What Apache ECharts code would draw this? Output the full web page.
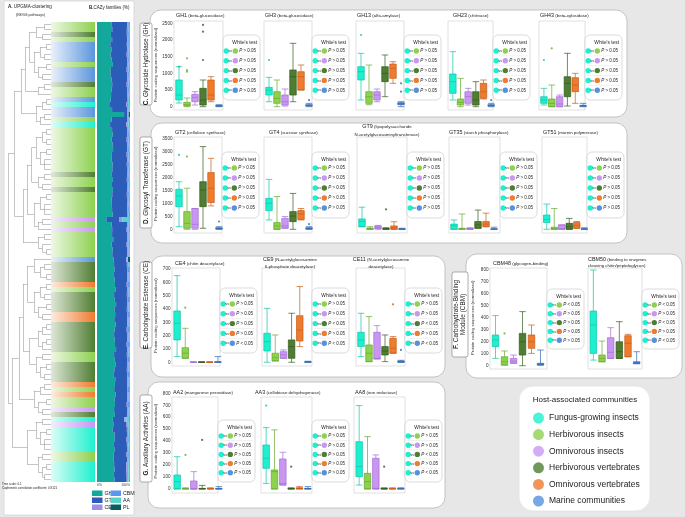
<!DOCTYPE html>
<html><head><meta charset="utf-8">
<script src="https://cdn.jsdelivr.net/npm/echarts@6/dist/echarts.min.js"></script>
<style>html,body{margin:0;padding:0;background:#e7e7e7}#c{width:685px;height:517px}</style>
</head><body><div id="c"></div><script>
// ================= DATA =================
const groups = ['Fungus-growing insects','Herbivorous insects','Omnivorous insects','Herbivorous vertebrates','Omnivorous vertebrates','Marine communities'];

// Box plots: [min, Q1, median, Q3, max] for each of the 6 groups
const GH1  = [[110,200,350,800,1200],[0,20,60,130,260],[50,150,280,370,450],[0,50,200,550,800],[150,200,350,800,900],[0,10,25,40,60]];
const GH3  = [[150,350,500,580,880],[0,100,250,450,800],[20,50,150,350,530],[150,350,900,1100,1900],[500,500,900,1050,1250],[0,20,40,60,100]];
const GH13 = [[200,800,1050,1200,1600],[60,100,300,450,1250],[150,200,350,450,530],[300,750,1000,1200,1550],[700,850,1150,1280,1350],[0,60,90,120,150]];
const GH23 = [[200,400,750,980,1650],[0,50,130,230,850],[50,100,300,450,550],[0,50,200,450,750],[230,250,450,700,800],[0,20,40,60,100]];
const GH43 = [[50,100,200,300,550],[0,0,100,230,650],[0,0,80,300,350],[20,300,700,900,1600],[100,450,650,870,1000],[0,10,25,40,100]];
const GT2  = [[100,870,1280,1540,1830],[0,40,230,680,1580],[0,40,190,800,800],[40,870,1510,1830,3180],[900,1030,1580,2180,2730],[0,10,30,60,100]];
const GT4  = [[360,720,1000,1190,1920],[0,0,130,260,1260],[40,40,130,420,490],[0,295,510,680,1380],[360,380,590,720,800],[0,10,30,60,100]];
const GT9  = [[100,100,300,400,850],[0,0,20,50,100],[0,20,70,130,150],[0,0,20,40,60],[0,0,60,130,290],[0,0,10,20,40]];
const GT35 = [[0,0,130,200,360],[0,0,20,40,590],[0,0,15,40,60],[40,40,170,300,740],[100,100,200,300,620],[0,0,10,20,80]];
const GT51 = [[0,260,380,550,970],[0,0,30,80,800],[0,0,30,170,170],[0,0,100,230,420],[40,40,150,260,300],[0,0,10,20,60]];
const CE4  = [[43,168,293,385,650],[30,30,68,110,255],[0,0,1,2,3],[0,0,1,2,3],[0,0,1,2,3],[0,0,2,5,43]];
const CE9  = [[0,85,155,218,405],[10,10,35,68,205],[30,30,55,80,93],[0,30,118,168,368],[118,160,243,350,568],[0,0,2,5,8]];
const CE11 = [[43,118,168,225,368],[5,5,68,130,343],[25,25,30,225,275],[5,55,85,118,205],[68,68,105,180,193],[0,0,5,10,15]];
const CBM48= [[61,159,215,257,419],[5,5,33,75,123],[20,20,39,61,89],[0,89,200,270,452],[103,145,200,257,340],[5,5,12,20,131]];
const CBM50= [[47,103,340,457,800],[33,33,61,89,206],[61,61,112,234,318],[61,61,117,200,368],[75,75,187,251,262],[17,17,25,33,117]];
const AA2  = [[0,0,61,117,270],[0,0,2,5,10],[0,0,0,67,145],[0,0,2,5,30],[0,0,2,5,10],[0,0,2,5,20]];
const AA3  = [[47,173,257,368,513],[0,0,145,159,494],[33,33,47,251,307],[0,0,2,5,10],[0,0,5,10,20],[0,0,3,5,20]];
const AA8  = [[33,103,187,396,697],[0,0,61,131,438],[0,0,6,257,285],[0,0,2,5,10],[0,0,2,5,10],[0,0,3,5,10]];

// Outlying points: [group index, value]
const GH1_out  = [[0,1200],[1,1450],[1,1100],[1,1050],[3,2450],[3,2250],[3,1400]];
const GH3_out  = [[0,1400],[5,200]];
const GH13_out = [[0,2150],[5,700],[5,450]];
const GH23_out = [[5,200]];
const GH43_out = [[0,1400],[1,1750]];
const GT2_out  = [[0,2860],[1,2800],[5,300]];
const GT4_out  = [[5,200]];
const GT9_out  = [[3,770]];
const CE4_out  = [[1,410]];
const CE11_out = [[4,435],[5,93]];
const CBM48_out= [[1,270]];
const AA2_out  = [[1,285],[3,410]];
const AA3_out  = [[0,697],[3,187]];
const AA8_out  = [[3,187]];

// White's test results (fungus-growing insects vs each other group)
const P_NS    = ['>','>','>','>','>'];
const P_CE4   = ['>','>','>','>','<'];
const P_CE9   = ['>','>','<','>','<'];
const P_CE11  = ['>','>','<','>','<'];
const P_CBM48 = ['<','>','>','>','>'];
const P_CBM50 = ['<','>','<','>','<'];
const P_AA8   = ['>','>','<','>','<'];

// Row y-axis ranges
const rowMax  = [2500, 3500, 700, 800, 800];
const rowStep = [500, 500, 100, 100, 100];

// Left panel: habitat of each leaf (G herb. insects, D herb. vertebrates, B marine, C fungus-growing, P omniv. insects, O omniv. vertebrates)
const leafHabitat = ('GGDGBBBBGBBBDGGBCBBGC' + 'GGGGGGGGGDGGDGGGGGPGPGGGGG' + 'BDDDDOGDDDDOODDDDDDGGDDDDOGOGGPD' + 'CPCCCCCGGCCCC').split('');

// CAZy class composition of each leaf (%)
const cazyClasses = ['GH','GT','CE','CBM','AA','PL'];
const cazyGH = [44,46,42,45,40,43,41,44,47,42,40,43,46,44,42,41,38,45,82,43,40,
 45,47,44,46,48,45,43,47,46,44,48,45,47,46,44,43,45,47,28,44,46,45,48,44,47,45,
 50,52,54,51,53,55,56,52,54,57,53,55,52,56,54,51,53,55,57,52,54,56,53,51,55,54,52,56,53,55,51,54,
 48,52,47,53,55,52,54,51,50,53,55,52,54];
const cazyGT = [46,44,48,45,50,47,49,46,43,48,50,47,44,46,48,49,52,45,10,47,50,
 45,43,46,44,42,45,47,43,44,46,42,45,43,44,46,47,45,43,40,46,44,45,42,46,43,45,
 38,39,37,40,38,36,35,39,37,34,38,36,39,35,37,40,38,36,34,39,37,35,38,40,36,37,39,35,38,36,40,37,
 35,39,44,38,36,40,37,40,41,38,36,39,37];
const cazyCE = [3,4,4,3,3,4,4,3,3,4,3,3,4,3,4,3,3,4,2,3,3,
 4,3,4,3,3,4,3,4,3,3,4,3,3,4,3,4,3,3,5,4,3,4,3,3,4,3,
 2,4,3,4,3,4,3,4,3,3,4,3,4,3,4,3,3,4,3,4,3,3,4,3,4,3,3,4,3,4,3,3,
 4,3,4,3,4,3,3,4,3,4,3,4,3];
const cazyCBM = [2,2,3,2,3,2,2,3,2,2,3,2,2,3,2,2,3,2,1,2,3,
 2,3,2,2,3,2,2,3,2,2,3,2,2,3,2,2,3,2,4,2,3,2,2,3,2,2,
 2,2,3,2,2,3,2,2,3,2,2,3,2,2,3,2,2,3,2,2,3,2,2,3,2,2,3,2,2,3,2,2,
 2,3,2,2,3,2,2,3,2,2,3,2,2];
const cazyAA = [2,3,2,2,3,2,3,2,2,3,2,2,3,2,2,3,6,2,1,2,4,
 2,2,3,2,2,3,2,2,3,2,2,3,2,2,3,2,2,3,22,2,3,2,2,3,2,2,
 2,3,2,2,3,2,2,3,2,2,3,2,2,3,2,2,3,2,2,3,2,2,3,2,2,3,2,2,3,2,2,3,
 10,4,3,3,3,4,3,3,3,4,5,4,4];
const cazyPL = [1,0.5,0.5,1,0.5,0.5,1,0.5,0.5,1,0.5,0.5,1,0.5,0.5,1,0.5,0.5,4,0.5,1,
 0.5,0.5,1,0.5,0.5,1,0.5,0.5,1,0.5,0.5,1,0.5,0.5,1,0.5,0.5,1,0.5,0.5,1,0.5,0.5,1,0.5,0.5,
 6,0.5,1,0.5,0.5,1,0.5,0.5,1,0.5,0.5,1,0.5,0.5,1,0.5,0.5,1,0.5,0.5,1,0.5,0.5,1,0.5,0.5,1,0.5,0.5,1,0.5,0.5,
 1,0.5,0.5,1,0.5,0.5,1,0.5,0.5,1,0.5,0.5,1];

// UPGMA tree (x = leaf, number = merge height, 0..1)
const treeA = "((( ((x,x).15,(x,x).2).35 , (((x,x).1,(x,x).15).25,((x,x).1,(x,x).2).3).4 ).5, ((x,x).15,x).3 ).6, (((x,x).1,x).2,((x,x).15,x).25).35 ).7";
const treeB = "((( (((x,x).1,(x,x).1).2,((x,x).1,(x,x,x).15).25).35 , ((x,x).15,(x,x).2).3 ).45, ( ((x,x).1,(x,x,x).15).25 , ((x,x).2,x).3 ).4 ).55, ((x,x).15,(x,(x,x).1).2).3 ).65";
const treeC = "((( (x,((x,x).15,(x,x).1).25).4 , (((x,x).1,(x,x).15).25,((x,x).1,(x,x).2).3).4 ).55, ( (((x,x).1,x).2,((x,x).1,x).2).3 , ((x,x).2,((x,x).1,(x,x).15).25).35 ).5 ).65, (((x,x).15,x).25,((x,x).1,(x,x).2).3).4 ).75";
const treeD = "( ((x,x).2,((x,x).1,(x,x,x).15).25).35 , ((x,x).2,((x,x).1,(x,x).15).2).3 ).55";
const treeString = "((" + treeA + "," + treeB + ").85,(" + treeC + "," + treeD + ").9)1";

// ================= STYLE / LAYOUT =================
const FONT = '"Liberation Sans", Arial, sans-serif';
const groupFill = ['#1ef0cf','#8dd14f','#c997f2','#4f7d31','#ef7b2f','#5591dd'];
const groupLine = ['#10c4a8','#68a92f','#a46ed6','#345a1d','#c65d1a','#3468b0'];
const habitatColor = {G:'#8dd14f', D:'#4f7d31', B:'#5b95dc', C:'#1ef0cf', P:'#c997f2', O:'#ef7b2f'};
const habitatLight = {G:'#eef8e4', D:'#dfe8d8', B:'#eaf1fb', C:'#dcfdf7', P:'#f5ecfd', O:'#fdece0'};
const cazyColors = ['#12a89b','#2b5cb8','#9d8fe3','#5d95f5','#56d4cb','#0b5d5b'];

const rowsLayout = [
 {top:23.3, h:83.4, wy:35, wh:65, ty:16, ty2:[12.5,19], ft:21, fb:110, ng:17},
 {top:138.3, h:91, wy:152, wh:66, ty:133, ty2:[127,135], ft:137, fb:233, ng:17},
 {top:269, h:93.3, wy:288, wh:65, ty:264, ty2:[260,266.5], ft:268, fb:366, ng:15},
 {top:270, h:95.7, wy:289, wh:60, ty:264, ty2:[259.5,266], ft:268, fb:369, ng:16},
 {top:393.3, h:95.7, wy:420, wh:62, ty:393, ty2:[389,396], ft:397, fb:493, ng:15}
];
const subplots = [
 {n:'GH1', d:'(beta-glucosidase)', data:GH1, out:GH1_out, p:P_NS, row:0, x:175, w:48, wx:223, tx:176},
 {n:'GH3', d:'(beta-glucosidase)', data:GH3, out:GH3_out, p:P_NS, row:0, x:265, w:48, wx:312, tx:265},
 {n:'GH13', d:'(alfa-amylase)', data:GH13, out:GH13_out, p:P_NS, row:0, x:357, w:48, wx:404, tx:357},
 {n:'GH23', d:'(chitinase)', data:GH23, out:GH23_out, p:P_NS, row:0, x:449, w:46, wx:493, tx:453},
 {n:'GH43', d:'(beta-xylosidase)', data:GH43, out:GH43_out, p:P_NS, row:0, x:540, w:47, wx:585, tx:540},
 {n:'GT2', d:'(cellulose synthase)', data:GT2, out:GT2_out, p:P_NS, row:1, x:175, w:48, wx:222, tx:175},
 {n:'GT4', d:'(sucrose synthase)', data:GT4, out:GT4_out, p:P_NS, row:1, x:265, w:48, wx:312, tx:269},
 {n:'GT9', d:'(lipopolysaccharide', d2:'N-acetylglucosaminyltransferase)', data:GT9, out:GT9_out, p:P_NS, row:1, x:358, w:48, wx:407, tx:387, center:true},
 {n:'GT35', d:'(starch phosphorylase)', data:GT35, out:null, p:P_NS, row:1, x:450, w:48, wx:500, tx:449},
 {n:'GT51', d:'(murein polymerase)', data:GT51, out:null, p:P_NS, row:1, x:543, w:45, wx:587, tx:543},
 {n:'CE4', d:'(chitin deacetylase)', data:CE4, out:CE4_out, p:P_CE4, row:2, x:173, w:49, wx:220, tx:175},
 {n:'CE9', d:'(N-acetylglucosamine', d2:'6-phosphate deacetylase)', data:CE9, out:null, p:P_CE9, row:2, x:263, w:49, wx:312, tx:290, center:true},
 {n:'CE11', d:'(N-acetylglucosamine', d2:'deacetylase)', data:CE11, out:CE11_out, p:P_CE11, row:2, x:357, w:48, wx:405, tx:381, center:true},
 {n:'CBM48', d:'(glycogen-binding)', data:CBM48, out:CBM48_out, p:P_CBM48, row:3, x:491, w:54, wx:547, tx:493},
 {n:'CBM50', d:'(binding to enzymes', d2:'cleaving chitin/peptidoglycan)', data:CBM50, out:null, p:P_CBM50, row:3, x:589, w:52, wx:642, tx:588},
 {n:'AA2', d:'(manganese peroxidase)', data:AA2, out:AA2_out, p:P_NS, row:4, x:173, w:50, wx:218, tx:173},
 {n:'AA3', d:'(cellobiose dehydrogenase)', data:AA3, out:AA3_out, p:P_NS, row:4, x:262, w:50, wx:312, tx:255},
 {n:'AA8', d:'(iron reductase)', data:AA8, out:AA8_out, p:P_AA8, row:4, x:355, w:50, wx:405, tx:355}
];

// ================= BUILD =================
const G = [];
function rect(x,y,w,h,fill,stroke,r,z,lw){ G.push({type:'rect', silent:true, z:z||0, shape:{x:x,y:y,width:w,height:h,r:r||0}, style:{fill:fill, stroke:stroke||null, lineWidth:lw||0.8}}); }
function circle(cx,cy,r,fill,z){ G.push({type:'circle', silent:true, z:z||10, shape:{cx:cx,cy:cy,r:r}, style:{fill:fill}}); }
function line(x1,y1,x2,y2,stroke,lw,z){ G.push({type:'line', silent:true, z:z||2, shape:{x1:x1,y1:y1,x2:x2,y2:y2}, style:{stroke:stroke, lineWidth:lw||0.5}}); }
function txt(x,y,t,o){ o=o||{};
  const st={text:t, fill:o.color||'#222', fontSize:o.size||5, fontFamily:FONT, fontWeight:o.weight||'normal',
    align:o.align||'left', verticalAlign:'middle', textAlign:o.align||'left', textVerticalAlign:'middle'};
  if(o.lh) st.lineHeight=o.lh;
  if(o.rich) st.rich=o.rich;
  G.push({type:'text', silent:true, x:x, y:y, z:o.z||10, rotation:o.rot||0, style:st});
}
function rs(size, extra){ return Object.assign({fontSize:size, fontFamily:FONT, fill:'#222', color:'#222'}, extra||{}); }

// backgrounds
rect(4,1,130,514,'#ffffff','#d6d6d6',0,0,0.8);
rect(150,10,477,107,'#ffffff','#b8b8b8',11,0);
rect(151,123,476,120,'#ffffff','#b8b8b8',11,0);
rect(151,256,294,121,'#ffffff','#b8b8b8',11,0);
rect(466,254,216,124,'#ffffff','#b8b8b8',11,0);
rect(148,382,297,126,'#ffffff','#b8b8b8',11,0);
rect(519,386,131,125,'#ffffff','#e2e2e2',14,0);

// section labels
function sectionLabel(x,y,w,h,letter,label){
  rect(x,y,w,h,'#ffffff','#8a8a8a',2,5,0.7);
  txt(x+w/2, y+h/2, '{b|'+letter+'} '+label, {size:6.4, align:'center', rot:Math.PI/2, lh:7.2, rich:{b:rs(6.4,{fontWeight:'bold'})}});
}
sectionLabel(140,23,12,82,'C.','Glycoside Hydrolase (GH)');
sectionLabel(140,137,12,91,'D.','Glycosyl Transferase (GT)');
sectionLabel(140,262,12,86,'E.','Carbohydrate Esterase (CE)');
rect(452,272,16,85,'#ffffff','#8a8a8a',2,5,0.7);
txt(460,314.5,'{b|F.} Carbohydrate-Binding\nModule (CBM)',{size:6.4, align:'center', rot:Math.PI/2, lh:7, rich:{b:rs(6.4,{fontWeight:'bold'})}});
sectionLabel(140,395,12,87,'G.','Auxiliary Activities (AA)');

// left panel texts
txt(8,7,'{b|A.} UPGMA-clustering',{size:4.6, rich:{b:rs(4.6,{fontWeight:'bold'})}});
txt(16,15,'(KEGG pathways)',{size:3.6});
txt(89,8,'{b|B.}CAZy families (%)',{size:4.5, rich:{b:rs(4.5,{fontWeight:'bold'})}});
txt(2,484,'Tree scale: 0.1',{size:3});
txt(2,488.5,'Cophenetic correlation coefficient: 0.9121',{size:3});

// host legend title
txt(585,400,'Host-associated communities',{size:8, align:'center'});

const grids=[], xAxes=[], yAxes=[], series=[];

// --- dendrogram ---
function parseTree(str){
  const s=str.replace(/\s/g,''); let pos=0, leaf=0;
  function node(){
    if(s[pos]==='('){ pos++; const c=[];
      for(;;){ c.push(node()); if(s[pos]===','){pos++;continue;} pos++; break; }
      const m=/^[0-9.]+/.exec(s.slice(pos)); pos+=m[0].length;
      return {h:parseFloat(m[0]), c:c};
    }
    pos++; return {h:0, leaf:leaf++};
  }
  return node();
}
const segs=[];
function layoutTree(n){
  if(n.c){ const ys=n.c.map(layoutTree);
    segs.push([[n.h,Math.min.apply(null,ys)],[n.h,Math.max.apply(null,ys)]]);
    n.c.forEach((ch,k)=>segs.push([[ch.h,ys[k]],[n.h,ys[k]]]));
    return (ys[0]+ys[ys.length-1])/2; }
  return n.leaf;
}
const nLeaves = leafHabitat.length;
layoutTree(parseTree(treeString));
grids.push({left:8, top:22, width:43, height:460});
xAxes.push({gridIndex:0, type:'value', min:0, max:1, inverse:true, show:false});
yAxes.push({gridIndex:0, type:'value', min:-0.5, max:nLeaves-0.5, inverse:true, show:false});
series.push({type:'lines', coordinateSystem:'cartesian2d', xAxisIndex:0, yAxisIndex:0, silent:true,
  data:segs.map(c=>({coords:c})), lineStyle:{color:'#9d9d9d', width:0.6, opacity:1}, z:3});

// --- habitat bands ---
const leafIds = leafHabitat.map((h,i)=>'L'+i);
grids.push({left:51, top:22, width:44, height:460});
xAxes.push({gridIndex:1, type:'value', min:0, max:1, show:false});
yAxes.push({gridIndex:1, type:'category', data:leafIds, inverse:true, show:false});
series.push({type:'bar', xAxisIndex:1, yAxisIndex:1, silent:true, barCategoryGap:'0%',
  data:leafHabitat.map(h=>({value:1, itemStyle:{color:{type:'linear',x:0,y:0,x2:1,y2:0,colorStops:[{offset:0,color:habitatLight[h]},{offset:1,color:habitatColor[h]}]}}}))});

// --- stacked CAZy composition ---
const cazyArrays=[cazyGH,cazyGT,cazyCE,cazyCBM,cazyAA,cazyPL];
const totals=leafIds.map((_,i)=>cazyArrays.reduce((s,a)=>s+a[i],0));
grids.push({left:97, top:22, width:33, height:460});
xAxes.push({gridIndex:2, type:'value', min:0, max:100, interval:100, axisLine:{show:false}, axisTick:{show:false}, splitLine:{show:false},
  axisLabel:{fontSize:3.4, color:'#333', margin:1.5, fontFamily:FONT, formatter:'{value}%', alignMinLabel:'left', alignMaxLabel:'right'}});
yAxes.push({gridIndex:2, type:'category', data:leafIds, inverse:true, show:false});
cazyClasses.forEach((c,k)=>{
  series.push({type:'bar', name:c, stack:'cazy', xAxisIndex:2, yAxisIndex:2, silent:true, barCategoryGap:'0%',
    itemStyle:{color:cazyColors[k]}, data:cazyArrays[k].map((v,i)=>v/totals[i]*100)});
});

// --- box plot panels ---
subplots.forEach((s,i)=>{
  const L=rowsLayout[s.row];
  const first = (i===0 || subplots[i-1].row!==s.row);
  // frame & White's test box
  rect(s.x-1, L.ft, s.wx-s.x+1, L.fb-L.ft, '#ffffff', '#cfcfcf', 0, 1, 0.6);
  const wx=s.wx, wy=L.wy, ww=37, wh=L.wh;
  rect(wx, wy, ww, wh, '#ffffff', '#c4c4c4', 5, 1, 0.6);
  txt(wx+ww-3, wy+7.5, "White's test", {size:4.8, align:'right'});
  const sp=(wh-16)/5;
  for(let j=0;j<5;j++){
    const cy=wy+16+j*sp;
    circle(wx+3.2, cy, 2.7, groupFill[0]);
    txt(wx+5.6, cy+0.4, 'vs', {size:3.2});
    circle(wx+12.3, cy, 2.7, groupFill[j+1]);
    txt(wx+16.2, cy+0.2, '{i|P} '+s.p[j]+' 0.05', {size:4.5, rich:{i:rs(4.5,{fontStyle:'italic'})}});
    if(j<4) line(wx+2, cy+sp/2, wx+ww-2, cy+sp/2, '#e0e0e0', 0.5);
  }
  // titles
  if(s.d2){
    const al = s.center?'center':'left';
    txt(s.tx, L.ty2[0], '{a|'+s.n+'} {b|'+s.d+'}', {size:4.4, align:al, rich:{a:rs(5.4), b:rs(4.4)}});
    txt(s.tx, L.ty2[1], '{b|'+s.d2+'}', {size:4.4, align:al, rich:{b:rs(4.4)}});
  } else {
    txt(s.tx, L.ty, '{a|'+s.n+'} {b|'+s.d+'}', {size:4.4, rich:{a:rs(5.4), b:rs(4.4)}});
  }
  // chart
  const gi=grids.length;
  grids.push({left:s.x, top:L.top, width:s.w, height:L.h});
  xAxes.push({gridIndex:gi, type:'category', data:groups, show:false});
  const ya = {gridIndex:gi, type:'value', min:0, max:rowMax[s.row], interval:rowStep[s.row], show:first,
    axisLine:{show:false}, axisTick:{show:false}, splitLine:{show:false},
    axisLabel:{show:first, fontSize:4.6, color:'#333', margin:2.5, fontFamily:FONT, formatter:(v)=>String(v)}};
  if(first){ ya.name='Protein coding sequences (normalized)'; ya.nameLocation='middle'; ya.nameGap=L.ng;
    ya.nameTextStyle={fontSize:4.3, color:'#333', fontFamily:FONT}; }
  yAxes.push(ya);
  series.push({type:'boxplot', xAxisIndex:gi, yAxisIndex:gi, silent:true, boxWidth:[6.5,6.5], z:3,
    data:s.data.map((v,k)=>({value:v, itemStyle:{color:groupFill[k], borderColor:groupLine[k], borderWidth:0.7}}))});
  if(s.out) series.push({type:'scatter', xAxisIndex:gi, yAxisIndex:gi, silent:true, symbolSize:2.2, z:4,
    data:s.out.map(o=>({value:o, itemStyle:{color:groupLine[o[0]]}}))});
});

// legend-only series for host communities
groups.forEach((g,k)=>series.push({type:'scatter', name:g, xAxisIndex:0, yAxisIndex:0, data:[], itemStyle:{color:groupFill[k]}}));

const option = {
  animation:false,
  backgroundColor:'#e7e7e7',
  textStyle:{fontFamily:FONT},
  grid:grids, xAxis:xAxes, yAxis:yAxes, series:series,
  legend:[
    {data:groups, left:533, top:412.5, orient:'vertical', itemGap:5.6, itemWidth:11, itemHeight:11, icon:'circle', padding:0, selectedMode:false,
     textStyle:{fontSize:8.5, color:'#222', fontFamily:FONT}},
    {data:['GH','GT','CE'], left:92, top:490.5, orient:'vertical', itemGap:1.5, itemWidth:10.5, itemHeight:5.5, icon:'rect', padding:0, selectedMode:false,
     textStyle:{fontSize:5.3, color:'#222', fontFamily:FONT, padding:[0,0,0,-3]}},
    {data:['CBM','AA','PL'], left:110.5, top:490.5, orient:'vertical', itemGap:1.5, itemWidth:10.5, itemHeight:5.5, icon:'rect', padding:0, selectedMode:false,
     textStyle:{fontSize:5.3, color:'#222', fontFamily:FONT, padding:[0,0,0,-3]}}
  ],
  graphic:{elements:G}
};
const chart = echarts.init(document.getElementById('c'), null, {renderer:'canvas'});
chart.setOption(option);
</script></body></html>
